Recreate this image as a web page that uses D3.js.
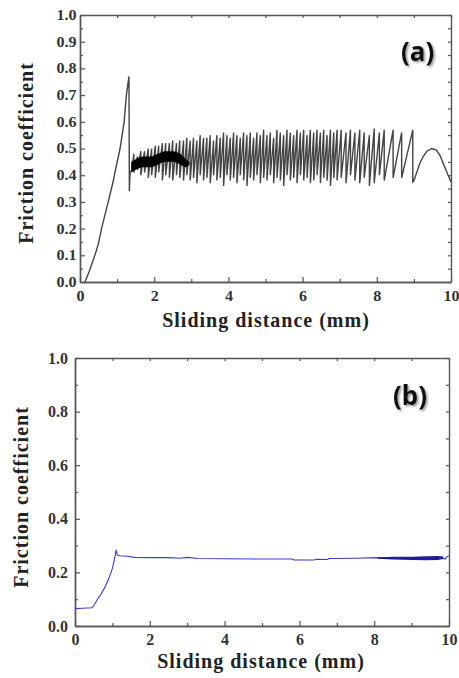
<!doctype html>
<html lang="en">
<head>
<meta charset="UTF-8">
<title>Friction coefficient vs sliding distance</title>
<script src="https://cdn.jsdelivr.net/npm/d3@7/dist/d3.min.js"></script>
<style>
  body { margin: 0; background: #fff; }
  .tick text { font-family: "Liberation Serif", "Times New Roman", serif; font-weight: bold; fill: #333; }
  .axis path, .axis line { stroke: #555; }
  .axis-title { font-family: "Liberation Serif", "Times New Roman", serif; font-weight: bold; font-size: 20px; letter-spacing: 1px; fill: #222; }
  .tag { font-family: "Noto Sans", sans-serif; font-weight: bold; font-size: 26px; fill: #111; }
</style>
</head>
<body>
<svg id="chart" width="459" height="678"></svg>
<script>
// ticks
var xTicks = [0, 2, 4, 6, 8, 10];
var xMinor = [1, 3, 5, 7, 9];
var aYTicks = [0, 0.1, 0.2, 0.3, 0.4, 0.5, 0.6, 0.7, 0.8, 0.9, 1.0];
var aYMinor = [0.05, 0.15, 0.25, 0.35, 0.45, 0.55, 0.65, 0.75, 0.85, 0.95];
var bYTicks = [0, 0.2, 0.4, 0.6, 0.8, 1.0];
var bYMinor = [0.1, 0.3, 0.5, 0.7, 0.9];

// (a) run-in ramp, peak and drop
var rampX = [0.135, 0.25, 0.40, 0.49, 0.58, 0.76, 0.90, 0.94, 1.08, 1.19, 1.25, 1.32, 1.33, 1.35, 1.40];
var rampY = [0.00, 0.04, 0.10, 0.14, 0.20, 0.30, 0.38, 0.41, 0.50, 0.60, 0.70, 0.77, 0.34, 0.41, 0.42];

// (a) stick-slip teeth: position of each drop, value before and after it
var toothX = [1.45, 1.55, 1.64, 1.74, 1.84, 1.93, 2.03, 2.12, 2.22, 2.31, 2.41, 2.50, 2.60, 2.69, 2.79, 2.88, 2.97,
  3.06, 3.15, 3.24, 3.33, 3.42, 3.51, 3.60, 3.69, 3.78, 3.87, 3.96, 4.05, 4.14, 4.23, 4.32, 4.41, 4.50, 4.59, 4.68, 4.77,
  4.86, 4.95, 5.04, 5.13, 5.22, 5.31, 5.40, 5.49, 5.58, 5.67, 5.76, 5.85, 5.94, 6.03, 6.12, 6.21, 6.30, 6.39, 6.48, 6.57,
  6.66, 6.75, 6.84, 6.93,
  7.04, 7.17, 7.29, 7.41, 7.54, 7.66, 7.80, 7.93, 8.07, 8.20, 8.44, 8.67, 8.97];
var toothHi = [0.48, 0.47, 0.49, 0.49, 0.50, 0.50, 0.51, 0.51, 0.52, 0.52, 0.52, 0.53, 0.52, 0.53, 0.53, 0.54, 0.53,
  0.54, 0.53, 0.55, 0.54, 0.54, 0.55, 0.53, 0.55, 0.54, 0.56, 0.55, 0.54, 0.56, 0.55, 0.54, 0.56, 0.55, 0.56, 0.54, 0.56,
  0.55, 0.57, 0.55, 0.56, 0.54, 0.57, 0.56, 0.55, 0.57, 0.56, 0.55, 0.57, 0.56, 0.57, 0.55, 0.57, 0.56, 0.57, 0.56, 0.57,
  0.55, 0.57, 0.56, 0.57,
  0.57, 0.56, 0.57, 0.56, 0.57, 0.56, 0.55, 0.575, 0.56, 0.57, 0.57, 0.56, 0.57];
var toothLo = [0.41, 0.42, 0.40, 0.41, 0.39, 0.40, 0.39, 0.41, 0.38, 0.40, 0.39, 0.38, 0.40, 0.39, 0.38, 0.40, 0.38,
  0.39, 0.37, 0.40, 0.38, 0.39, 0.37, 0.40, 0.38, 0.39, 0.36, 0.40, 0.38, 0.39, 0.37, 0.40, 0.38, 0.36, 0.39, 0.38, 0.40,
  0.37, 0.39, 0.38, 0.40, 0.37, 0.39, 0.38, 0.36, 0.40, 0.38, 0.39, 0.37, 0.40, 0.38, 0.39, 0.37, 0.38, 0.40, 0.37, 0.39,
  0.38, 0.36, 0.39, 0.38,
  0.39, 0.37, 0.40, 0.38, 0.37, 0.39, 0.36, 0.37, 0.40, 0.38, 0.39, 0.39, 0.375];

// (a) dense dark band at the start of the stick-slip
var bandX  = [1.38, 1.50, 1.70, 1.90, 2.10, 2.30, 2.50, 2.70, 2.85, 2.95];
var bandLo = [0.41, 0.42, 0.43, 0.43, 0.44, 0.45, 0.45, 0.44, 0.43, 0.44];
var bandHi = [0.45, 0.46, 0.47, 0.47, 0.48, 0.49, 0.49, 0.48, 0.46, 0.45];

// (a) final hump
var arcX = [9.00, 9.10, 9.16, 9.25, 9.35, 9.48, 9.60, 9.70, 9.79, 9.90, 10.0];
var arcY = [0.38, 0.42, 0.445, 0.47, 0.49, 0.50, 0.495, 0.475, 0.445, 0.407, 0.375];

// (b)
var bX = [0, 0.20, 0.45, 0.50, 0.60, 0.70, 0.80, 0.90, 1.00, 1.07, 1.10, 1.13, 1.20, 1.40, 1.60, 2.00, 2.50, 2.80, 3.00,
  3.30, 4.00, 5.00, 5.80, 5.85, 6.40, 6.45, 6.75, 6.80, 7.50, 8.10, 9.00, 9.80, 9.90, 9.95, 10.0];
var bY = [0.065, 0.066, 0.068, 0.075, 0.100, 0.120, 0.145, 0.175, 0.215, 0.260, 0.284, 0.265, 0.262, 0.260, 0.256, 0.255,
  0.255, 0.253, 0.256, 0.252, 0.251, 0.250, 0.250, 0.246, 0.246, 0.249, 0.248, 0.252, 0.253, 0.255, 0.253, 0.254, 0.250,
  0.259, 0.262];
var bBandX  = [8.10, 8.50, 9.00, 9.40, 9.70, 9.85];
var bBandLo = [0.251, 0.248, 0.246, 0.245, 0.246, 0.250];
var bBandHi = [0.256, 0.258, 0.258, 0.260, 0.261, 0.259];

var svg = d3.select("#chart");

var shadow = svg.append("defs").append("filter").attr("id", "shadow")
    .attr("x", "-20%").attr("y", "-20%").attr("width", "150%").attr("height", "150%");
shadow.append("feDropShadow").attr("dx", 1.5).attr("dy", 1.5).attr("stdDeviation", 1.2)
    .attr("flood-color", "#777").attr("flood-opacity", 0.8);

function panel(cfg) {
  var x = d3.scaleLinear().domain([0, 10]).range([cfg.left, cfg.right]);
  var y = d3.scaleLinear().domain([0, 1]).range([cfg.bottom, cfg.top]);
  var g = svg.append("g");

  // axes: major + minor, ticks pointing in, mirrored on top/right
  function addAxis(axis, tx, ty) {
    var a = g.append("g").attr("class", "axis").attr("transform", "translate(" + tx + "," + ty + ")").call(axis);
    a.select(".domain").attr("stroke-width", 1.4);
    a.selectAll(".tick line").attr("stroke-width", 1.2);
    a.selectAll(".tick text").style("font-size", cfg.tickFont + "px")
      .attr("transform", "scale(" + cfg.tickStretch + ",1)");
    return a;
  }
  addAxis(d3.axisBottom(x).tickValues(xTicks).tickSize(-5).tickSizeOuter(0).tickPadding(cfg.xPad).tickFormat(d3.format("d")), 0, cfg.bottom);
  addAxis(d3.axisBottom(x).tickValues(xMinor).tickSize(-3).tickSizeOuter(0).tickFormat(""), 0, cfg.bottom);
  addAxis(d3.axisTop(x).tickValues(xTicks.concat(xMinor)).tickSize(-3).tickSizeOuter(0).tickFormat(""), 0, cfg.top);
  addAxis(d3.axisLeft(y).tickValues(cfg.yTicks).tickSize(-5).tickSizeOuter(0).tickPadding(cfg.yPad).tickFormat(d3.format(".1f")), cfg.left, 0);
  addAxis(d3.axisLeft(y).tickValues(cfg.yMinor).tickSize(-3).tickSizeOuter(0).tickFormat(""), cfg.left, 0);
  addAxis(d3.axisRight(y).tickValues(cfg.yTicks.concat(cfg.yMinor)).tickSize(-3).tickSizeOuter(0).tickFormat(""), cfg.right, 0);

  g.append("text").attr("class", "axis-title").attr("text-anchor", "middle")
    .attr("x", cfg.xTitle[0]).attr("y", cfg.xTitle[1]).text("Sliding distance (mm)");
  g.append("text").attr("class", "axis-title").attr("text-anchor", "middle")
    .attr("transform", "translate(" + cfg.yTitle[0] + "," + cfg.yTitle[1] + ") rotate(-90)")
    .text("Friction coefficient");
  g.append("text").attr("class", "tag").attr("filter", "url(#shadow)")
    .attr("x", cfg.tag[0]).attr("y", cfg.tag[1]).text(cfg.tagText);

  return { g: g, x: x, y: y };
}

// ---- (a)
var pa = panel({ left: 80, right: 451, top: 15, bottom: 282, yTicks: aYTicks, yMinor: aYMinor,
  tickFont: 14, tickStretch: 1.15, xPad: 9, yPad: 3, xTitle: [266, 327], yTitle: [33, 153], tag: [401, 61], tagText: "(a)" });

var ptsA = rampX.map(function (d, i) { return [d, rampY[i]]; });
toothX.forEach(function (d, i) {
  ptsA.push([d, toothHi[i]]);
  ptsA.push([d, toothLo[i]]);
});
arcX.forEach(function (d, i) { ptsA.push([d, arcY[i]]); });

var lineA = d3.line().x(function (d) { return pa.x(d[0]); }).y(function (d) { return pa.y(d[1]); });
pa.g.append("path").datum(ptsA).attr("d", lineA)
  .attr("fill", "none").attr("stroke", "#444").attr("stroke-width", 1.4);

var areaA = d3.area().curve(d3.curveMonotoneX)
  .x(function (d, i) { return pa.x(d); })
  .y0(function (d, i) { return pa.y(bandLo[i]); })
  .y1(function (d, i) { return pa.y(bandHi[i]); });
pa.g.append("path").datum(bandX).attr("d", areaA).attr("fill", "#000");

// ---- (b)
var pb = panel({ left: 75, right: 449, top: 358, bottom: 626, yTicks: bYTicks, yMinor: bYMinor,
  tickFont: 16, tickStretch: 1, xPad: 8, yPad: 7, xTitle: [261, 668], yTitle: [28, 497], tag: [393, 405], tagText: "(b)" });

var lineB = d3.line().x(function (d, i) { return pb.x(d); }).y(function (d, i) { return pb.y(bY[i]); });
pb.g.append("path").datum(bX).attr("d", lineB)
  .attr("fill", "none").attr("stroke", "#3c3cd0").attr("stroke-width", 1.1);

var areaB = d3.area()
  .x(function (d) { return pb.x(d); })
  .y0(function (d, i) { return pb.y(bBandLo[i]); })
  .y1(function (d, i) { return pb.y(bBandHi[i]); });
pb.g.append("path").datum(bBandX).attr("d", areaB).attr("fill", "#1e1e96");
</script>
</body>
</html>
